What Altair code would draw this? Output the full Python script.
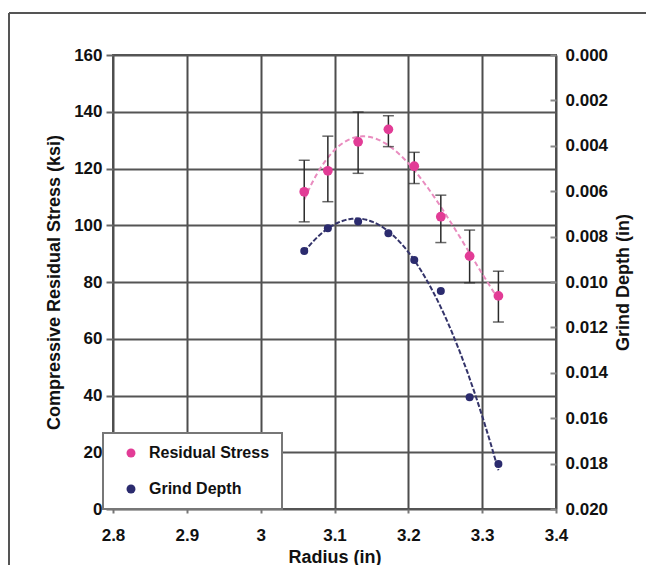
import altair as alt
import pandas as pd

# ---- data ----
radius = [3.059, 3.091, 3.132, 3.173, 3.208, 3.244, 3.283, 3.322]
stress = [111.8, 119.2, 129.4, 133.8, 120.8, 103.0, 89.1, 75.1]
stress_lo = [101.2, 108.3, 118.3, 127.7, 114.7, 93.9, 79.7, 65.9]
stress_hi = [122.9, 131.4, 139.9, 138.6, 125.7, 110.6, 98.3, 83.8]
depth = [0.00863, 0.00763, 0.00734, 0.00785, 0.00903, 0.01040, 0.01508, 0.01802]

x_ticks = [2.8, 2.9, 3.0, 3.1, 3.2, 3.3, 3.4]
y_ticks = [0, 20, 40, 60, 80, 100, 120, 140, 160]
d_ticks = [0.000, 0.002, 0.004, 0.006, 0.008, 0.010, 0.012, 0.014, 0.016, 0.018, 0.020]

series = ["Residual Stress", "Grind Depth"]
colors = ["#e23c96", "#2b2b6e"]

FONT = "Liberation Sans"

stress_df = pd.DataFrame({"radius": radius, "stress": stress, "lo": stress_lo,
                          "hi": stress_hi, "series": series[0]})
depth_df = pd.DataFrame({"radius": radius, "depth": depth, "series": series[1]})

X = alt.X("radius:Q",
          scale=alt.Scale(domain=[2.8, 3.4], nice=False, zero=False),
          axis=alt.Axis(values=x_ticks, format="~f", title="Radius (in)",
                        grid=True, gridColor="#4d4d4d", gridWidth=2,
                        domain=False, tickSize=4, tickColor="#777", tickWidth=2,
                        labelFlush=False, labelPadding=14, titlePadding=5))

s_scale = alt.Scale(domain=[0, 160], nice=False)
s_axis = alt.Axis(values=y_ticks, title="Compressive Residual Stress (ksi)",
                  grid=True, gridColor="#555", gridWidth=2,
                  domain=False, tickSize=7, tickColor="#666", tickWidth=2,
                  labelPadding=4, titlePadding=10)
YS = alt.Y("stress:Q", scale=s_scale, axis=s_axis)

color = alt.Color("series:N",
                  scale=alt.Scale(domain=series, range=colors),
                  legend=alt.Legend(title=None, orient="none", legendX=-10, legendY=378))

pink_curve = alt.Chart(stress_df).transform_regression(
    "radius", "stress", method="poly", order=3
).mark_line(color="#e98cbf", strokeWidth=2, strokeDash=[5, 3]).encode(x=X, y=YS)

pink_bars = alt.Chart(stress_df).mark_rule(color="#2a2a2a", strokeWidth=1.5).encode(
    x=X, y=alt.Y("lo:Q", scale=s_scale, axis=s_axis), y2="hi:Q")
pink_lo = alt.Chart(stress_df).mark_tick(color="#2a2a2a", thickness=1.5, size=11,
                                         orient="horizontal").encode(
    x=X, y=alt.Y("lo:Q", scale=s_scale, axis=s_axis))
pink_hi = alt.Chart(stress_df).mark_tick(color="#2a2a2a", thickness=1.5, size=11,
                                         orient="horizontal").encode(
    x=X, y=alt.Y("hi:Q", scale=s_scale, axis=s_axis))

pink_pts = alt.Chart(stress_df).mark_point(filled=True, shape="circle", size=95,
                                           opacity=1).encode(x=X, y=YS, color=color)

pink = alt.layer(pink_curve, pink_bars, pink_lo, pink_hi, pink_pts)

YD = alt.Y("depth:Q",
           scale=alt.Scale(domain=[0, 0.020], nice=False, zero=False, reverse=True),
           axis=alt.Axis(values=d_ticks, format=".3f", orient="right",
                         title="Grind Depth (in)", grid=False, domain=False,
                         offset=-6, tickSize=6, tickColor="#888", tickWidth=2,
                         labelPadding=9, titleAngle=270, titleBaseline="top",
                         titlePadding=7))

blue_curve = alt.Chart(depth_df).transform_regression(
    "radius", "depth", method="poly", order=3
).mark_line(color="#34346a", strokeWidth=2, strokeDash=[5, 2]).encode(x=X, y=YD)

blue_pts = alt.Chart(depth_df).mark_point(filled=True, shape="circle", size=64,
                                          opacity=1).encode(x=X, y=YD, color=color)

blue = alt.layer(blue_curve, blue_pts)

frame_df = pd.DataFrame({"a": [0]})
frame_v = alt.Chart(frame_df).mark_rule(color="#555", strokeWidth=2).encode(
    x=alt.value(-104), y=alt.value(-42), y2=alt.value(700))
frame_h = alt.Chart(frame_df).mark_rule(color="#555", strokeWidth=2).encode(
    x=alt.value(-104), x2=alt.value(800), y=alt.value(-42))

chart = alt.layer(pink, blue, frame_v, frame_h).resolve_scale(y="independent").properties(
    width=443, height=454,
    autosize=alt.AutoSizeParams(type="none"),
    padding={"left": 105, "top": 47, "right": 90, "bottom": 56},
    background="white",
).configure_view(stroke="#555", strokeWidth=2).configure_axis(
    labelFont=FONT, labelFontSize=17, labelFontWeight="bold", labelColor="#111",
    titleFont=FONT, titleFontSize=18, titleFontWeight="bold", titleColor="#111",
).configure_legend(
    labelFont=FONT, labelFontSize=16, labelFontWeight="bold", labelColor="#111",
    fillColor="white", strokeColor="#777", strokeWidth=2, padding=12,
    symbolOffset=8, labelOffset=10, rowPadding=20, symbolSize=80,
    symbolType="circle",
)

chart.save("out.html", embed_options={"renderer": "svg", "actions": False})
